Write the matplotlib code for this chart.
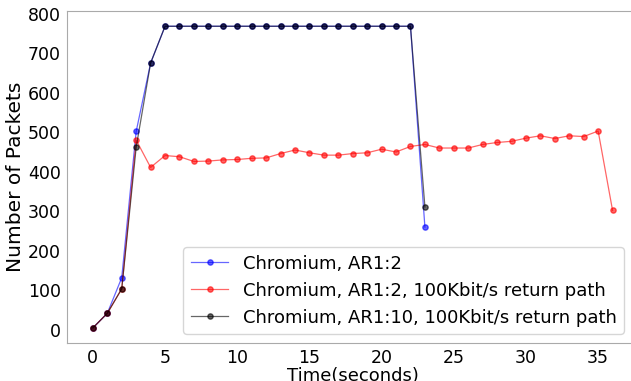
import numpy as np
import matplotlib
matplotlib.use('Agg')
import matplotlib.pyplot as plt

# time axis (seconds)
t_ar2 = list(range(0, 24))
t_ar2_ret = list(range(0, 37))
t_ar10_ret = list(range(0, 24))

ar2 = [5, 42, 132, 502, 675] + [768]*18 + [260]
ar2_ret = [5, 42, 104, 480, 411, 441, 438, 426, 427, 430, 431, 434, 435, 446, 455,
           448, 442, 442, 446, 448, 457, 450, 464, 469, 460, 460, 460, 469, 474, 477,
           485, 491, 484, 491, 489, 503, 302]
ar10_ret = [5, 42, 104, 462, 675] + [768]*18 + [311]

labels = ['Chromium, AR1:2',
          'Chromium, AR1:2, 100Kbit/s return path',
          'Chromium, AR1:10, 100Kbit/s return path']

fig = plt.figure(figsize=(6.31, 3.81), dpi=100)
ax = fig.add_axes([0.106, 0.0997, 0.906, 0.871])

ax.plot(t_ar2, ar2, color='blue', alpha=0.6, lw=0.9, marker='o', ms=3.8, label=labels[0])
ax.plot(t_ar2_ret, ar2_ret, color='red', alpha=0.6, lw=0.9, marker='o', ms=3.8, label=labels[1])
ax.plot(t_ar10_ret, ar10_ret, color='black', alpha=0.6, lw=0.9, marker='o', ms=3.8, label=labels[2])

ax.set_xticks([0, 5, 10, 15, 20, 25, 30, 35])
ax.set_yticks(range(0, 801, 100))
ax.tick_params(labelsize=12.5, length=0, pad=4.5)
for s in ax.spines.values():
    s.set_color('#aaaaaa')
ax.set_xlabel('Time(seconds)', fontsize=13, labelpad=0)
ax.set_ylabel('Number of Packets', fontsize=14.5, labelpad=2)

ax.legend(loc='lower right', fontsize=13, handlelength=2.1, borderaxespad=0,
          bbox_to_anchor=(624/631, 1-334/381), bbox_transform=fig.transFigure)

fig.savefig('out.png', dpi=100)
